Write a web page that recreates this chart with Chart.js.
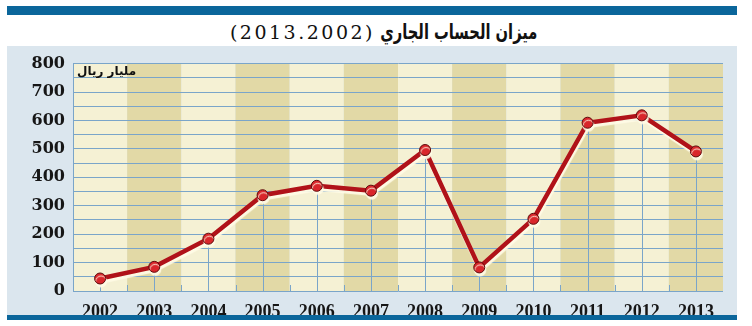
<!DOCTYPE html>
<html>
<head>
<meta charset="utf-8">
<script src="https://cdn.jsdelivr.net/npm/chart.js@4.4.0/dist/chart.umd.min.js"></script>
<style>
  html, body { margin: 0; padding: 0; background: #fff; }
  #wrap { position: relative; width: 752px; height: 326px; overflow: hidden; }
  #topbar { position: absolute; left: 7px; top: 6px; width: 730px; height: 9px; background: #0b669b; }
  .ttl { position: absolute; top: 17px; height: 30px; line-height: 30px; color: #111; white-space: nowrap; }
  #titleAr { right: 215px; font-family: "DejaVu Sans"; font-weight: bold; font-size: 21px;
             transform: scaleX(0.7); transform-origin: right center; direction: rtl; }
  #titleNum { right: 377px; font-family: "DejaVu Serif"; font-size: 19px; letter-spacing: 2.5px; }
  #panel { position: absolute; left: 7px; top: 46px; width: 730px; height: 269px; background: #dbe6ee; }
  #botbar { position: absolute; left: 7px; top: 315px; width: 730px; height: 5px; background: #0b669b; }
  #holder { position: absolute; left: 0; top: 0; width: 730px; height: 269px; }
</style>
</head>
<body>
<div id="wrap">
  <div id="topbar"></div>
  <div class="ttl" id="titleAr">ميزان الحساب الجاري</div>
  <div class="ttl" id="titleNum">(2013.2002)</div>
  <div id="panel"><div id="holder"><canvas id="myChart"></canvas></div></div>
  <div id="botbar"></div>
</div>
<script>
// chart data
var years = ['2002', '2003', '2004', '2005', '2006', '2007', '2008', '2009', '2010', '2011', '2012', '2013'];
var balance = [44, 85, 184, 337, 370, 353, 496, 83, 254, 592, 618, 491];
var yMin = 0;
var yMax = 800;
var yGridStep = 50;
var yLabelStep = 100;
var unitLabel = 'مليار ريال';

var blueLine = '#7aa5c9';

// alternating column backgrounds, drop lines, unit text
var bandsPlugin = {
    id: 'bands',
    beforeDraw: function(chart) {
        var ctx = chart.ctx;
        var area = chart.chartArea;
        var xs = chart.scales.x;
        var w = (area.right - area.left) / years.length;
        ctx.save();
        for (var i = 0; i < years.length; i++) {
            var cx = xs.getPixelForValue(i);
            ctx.fillStyle = (i % 2 == 0) ? '#f5f1d4' : '#e2d9a6';
            ctx.fillRect(cx - w / 2, area.top, w, area.bottom - area.top);
        }
        ctx.restore();
    },
    beforeDatasetsDraw: function(chart) {
        var ctx = chart.ctx;
        var area = chart.chartArea;
        var xs = chart.scales.x;
        var w = (area.right - area.left) / years.length;
        var meta = chart.getDatasetMeta(0);
        ctx.save();
        ctx.strokeStyle = blueLine;
        ctx.lineWidth = 1;
        // drop lines from each point
        meta.data.forEach(function(pt) {
            ctx.beginPath();
            ctx.moveTo(Math.round(pt.x) + 0.5, pt.y);
            ctx.lineTo(Math.round(pt.x) + 0.5, area.bottom);
            ctx.stroke();
        });
        // small ticks on column boundaries
        for (var i = 1; i < years.length; i++) {
            var bx = Math.round(xs.getPixelForValue(i) - w / 2) + 0.5;
            ctx.beginPath();
            ctx.moveTo(bx, area.bottom - 6);
            ctx.lineTo(bx, area.bottom);
            ctx.stroke();
        }
        // unit label
        ctx.fillStyle = '#111';
        ctx.font = 'bold 12px "DejaVu Sans"';
        ctx.textAlign = 'left';
        ctx.textBaseline = 'middle';
        ctx.fillText(unitLabel, area.left + 4, area.top + 8);
        ctx.restore();
    },
    beforeDatasetDraw: function(chart) {
        var ctx = chart.ctx;
        ctx.save();
        ctx.shadowColor = 'rgba(255, 251, 230, 0.95)';
        ctx.shadowOffsetX = 1;
        ctx.shadowOffsetY = 3;
        ctx.shadowBlur = 1;
    },
    afterDatasetDraw: function(chart) {
        chart.ctx.restore();
    }
};

var config = {
    type: 'line',
    data: {
        labels: years,
        datasets: [{
            data: balance,
            borderColor: '#b01219',
            borderWidth: 4.5,
            tension: 0,
            fill: false,
            pointRadius: 5.5,
            pointBackgroundColor: '#d9262b',
            pointBorderColor: '#5e0b0b',
            pointBorderWidth: 1
        }]
    },
    options: {
        responsive: true,
        maintainAspectRatio: false,
        animation: false,
        layout: {
            padding: { top: 13, right: 14, bottom: 0, left: 0 }
        },
        plugins: {
            legend: { display: false },
            title: { display: false },
            tooltip: { enabled: false }
        },
        scales: {
            x: {
                offset: true,
                grid: { display: false },
                border: { display: false },
                ticks: {
                    color: '#161616',
                    padding: 3,
                    font: { family: 'Liberation Serif', weight: 'bold', size: 18 }
                },
                afterFit: function(s) { s.height = 24; }
            },
            y: {
                min: yMin,
                max: yMax,
                grid: { color: blueLine, lineWidth: 1, drawTicks: false },
                border: { display: true, color: blueLine, width: 1 },
                ticks: {
                    stepSize: yGridStep,
                    autoSkip: false,
                    maxTicksLimit: 40,
                    color: '#161616',
                    padding: 8,
                    font: { family: 'DejaVu Serif', weight: 'bold', size: 16 },
                    callback: function(v) { return (v % yLabelStep == 0) ? v : ''; }
                },
                afterFit: function(s) { s.width = 66; }
            }
        }
    },
    plugins: [bandsPlugin]
};

window.onload = function() {
    var ctx = document.getElementById('myChart').getContext('2d');
    window.balanceChart = new Chart(ctx, config);
};
</script>
</body>
</html>
